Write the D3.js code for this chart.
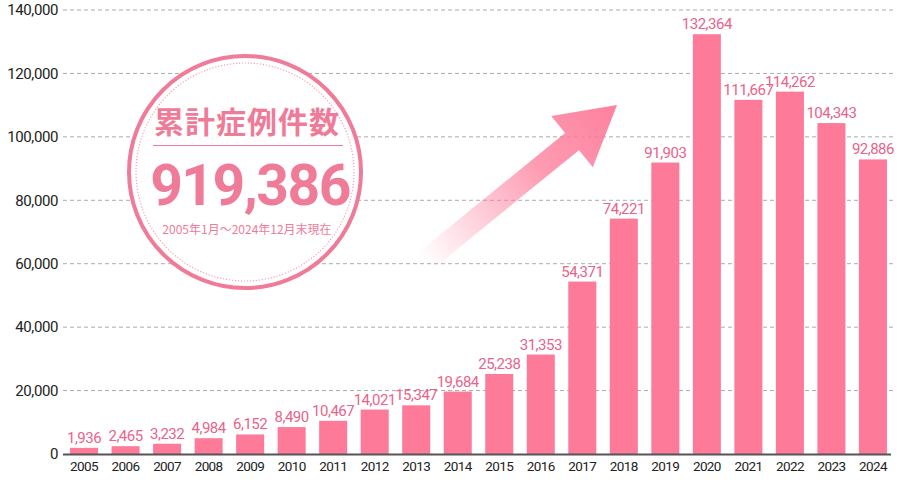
<!DOCTYPE html>
<html><head><meta charset="utf-8">
<script src="https://cdn.jsdelivr.net/npm/d3@7"></script>
<style>body{margin:0;background:#fff;}svg{display:block;}</style>
</head><body>
<svg id="chart" width="900" height="500"></svg>
<script>
const years = ["2005","2006","2007","2008","2009","2010","2011","2012","2013","2014","2015","2016","2017","2018","2019","2020","2021","2022","2023","2024"];
const cases = [1936,2465,3232,4984,6152,8490,10467,14021,15347,19684,25238,31353,54371,74221,91903,132364,111667,114262,104343,92886];
const yTicks = [0,20000,40000,60000,80000,100000,120000,140000];
const badgeTitle = "累計症例件数";
const badgeTotal = "919,386";
const badgeNote = "2005年1月～2024年12月末現在";

const svg = d3.select("#chart");
const pink = "#fd7a99", labelPink = "#e9638a", textDark = "#222";
const numFont = "Roboto, 'Noto Sans', sans-serif";
const jpFont = "'Noto Sans CJK JP', sans-serif";

const x = d3.scaleBand().domain(years).range([63.4, 893.6]).paddingInner(0.325).paddingOuter(0.16);
const y = d3.scaleLinear().domain([0, 140000]).range([454, 10]);
const fmt = d3.format(",");

// gridlines
svg.append("g").selectAll("line").data(yTicks.filter(d => d > 0)).join("line")
  .attr("x1", 63).attr("x2", 893).attr("y1", d => y(d)).attr("y2", d => y(d))
  .attr("stroke", "#aaa").attr("stroke-width", 1).attr("stroke-dasharray", "4,3");

// y axis labels
const yAxis = svg.append("g").attr("transform", "translate(60,0)")
  .call(d3.axisLeft(y).tickValues(yTicks).tickFormat(fmt).tickSize(0).tickPadding(2));
yAxis.select(".domain").remove();
yAxis.selectAll("text").attr("font-family", numFont).attr("font-size", 15)
  .attr("fill", textDark).attr("letter-spacing", "-0.4px");

// arrow (decorative)
const defs = svg.append("defs");
const grad = defs.append("linearGradient").attr("id", "arrowGrad")
  .attr("gradientUnits", "userSpaceOnUse").attr("x1", 0).attr("y1", 0).attr("x2", 250).attr("y2", 0);
grad.append("stop").attr("offset", 0).attr("stop-color", "#fd7a99").attr("stop-opacity", 0);
grad.append("stop").attr("offset", 0.6).attr("stop-color", "#fd7a99").attr("stop-opacity", 0.75);
grad.append("stop").attr("offset", 1).attr("stop-color", "#fd7a99").attr("stop-opacity", 0.95);
const ax0 = 424, ay0 = 262, ax1 = 617, ay1 = 105;
const ang = Math.atan2(ay1 - ay0, ax1 - ax0) * 180 / Math.PI;
const L = Math.hypot(ax1 - ax0, ay1 - ay0);
const sw = 11, hw = 33, hl = 58;
svg.append("path")
  .attr("transform", `translate(${ax0},${ay0}) rotate(${ang})`)
  .attr("d", `M0,${-sw} L${L - hl},${-sw} L${L - hl},${-hw} L${L},0 L${L - hl},${hw} L${L - hl},${sw} L0,${sw} Z`)
  .attr("fill", "url(#arrowGrad)");

// bars
svg.append("g").selectAll("rect").data(cases).join("rect")
  .attr("x", (d, i) => x(years[i])).attr("width", x.bandwidth())
  .attr("y", d => y(d)).attr("height", d => y(0) - y(d))
  .attr("fill", pink);

// value labels
svg.append("g").selectAll("text").data(cases).join("text")
  .attr("x", (d, i) => x(years[i]) + x.bandwidth() / 2)
  .attr("y", d => y(d) - 5)
  .attr("text-anchor", "middle")
  .attr("font-family", numFont).attr("font-size", 15)
  .attr("letter-spacing", "-0.5px")
  .attr("fill", labelPink).text(d => fmt(d));

// x axis
const xAxis = svg.append("g").attr("transform", "translate(0,454)")
  .call(d3.axisBottom(x).tickSize(0).tickPadding(7));
xAxis.select(".domain").remove();
xAxis.selectAll("text").attr("font-family", numFont).attr("font-size", 13.5)
  .attr("fill", textDark).attr("letter-spacing", "-0.6px");
svg.append("line").attr("x1", 63).attr("x2", 891).attr("y1", 454.5).attr("y2", 454.5)
  .attr("stroke", "#555").attr("stroke-width", 2);

// badge
const cx = 245, cy = 172, r = 116;
const badge = svg.append("g");
badge.append("circle").attr("cx", cx).attr("cy", cy).attr("r", r)
  .attr("fill", "#fff").attr("stroke", "#f07b98").attr("stroke-width", 4);
badge.append("circle").attr("cx", cx).attr("cy", cy).attr("r", r - 7)
  .attr("fill", "none").attr("stroke", "#f4a0b4").attr("stroke-width", 1.2).attr("stroke-dasharray", "1.2,1.8");
badge.append("text").attr("x", cx + 2).attr("y", 133).attr("text-anchor", "middle")
  .attr("font-family", jpFont).attr("font-weight", 700).attr("font-size", 30)
  .attr("letter-spacing", "1px").attr("fill", "#f07b98").text(badgeTitle);
badge.append("line").attr("x1", 153).attr("x2", 343).attr("y1", 145.5).attr("y2", 145.5)
  .attr("stroke", "#f07b98").attr("stroke-width", 1.2);
badge.append("text").attr("x", cx + 5).attr("y", 205).attr("text-anchor", "middle")
  .attr("font-family", numFont).attr("font-weight", 700).attr("font-size", 57)
  .attr("letter-spacing", "-1.5px").attr("fill", "#f07b98").text(badgeTotal);
badge.append("text").attr("x", cx + 2).attr("y", 234).attr("text-anchor", "middle")
  .attr("font-family", jpFont).attr("font-size", 12)
  .attr("fill", "#f07b98").text(badgeNote);
</script>
</body></html>
